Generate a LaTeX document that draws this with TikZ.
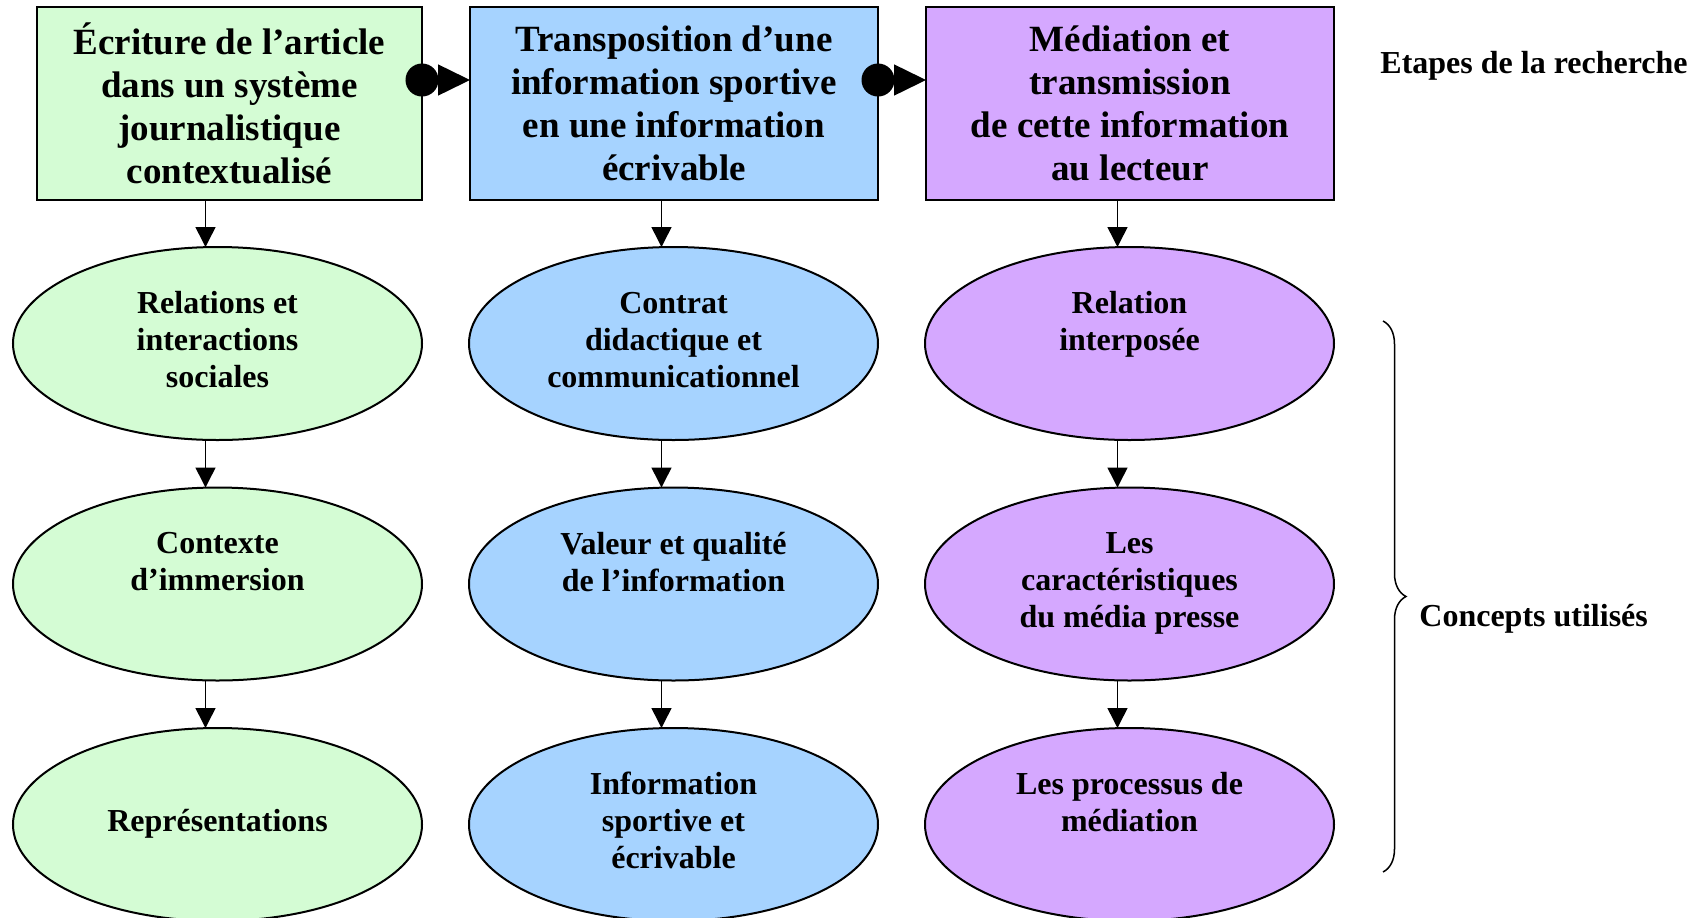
\documentclass[tikz,border=0pt]{standalone}
\usepackage{fontspec}
\setmainfont{Liberation Serif}
\usetikzlibrary{shapes.geometric,arrows.meta,decorations.pathreplacing}

\definecolor{vert}{HTML}{D4FCD4}
\definecolor{bleu}{HTML}{A6D3FF}
\definecolor{violet}{HTML}{D5A8FF}

\begin{document}
\begin{tikzpicture}[x=0.5pt,y=-0.5pt,
     etape/.style={rectangle, draw, line width=1pt, outer sep=0pt, minimum height=96.5pt, inner sep=0pt, align=center, font=\bfseries\fontsize{18.5}{21.5}\selectfont},
     notion/.style={ellipse, draw, line width=1pt, outer sep=0pt, minimum width=204.5pt, minimum height=96.5pt, inner sep=0pt, text depth=4pt, align=center, font=\bfseries\fontsize{16}{18.5}\selectfont},
     fleche/.style={line width=0.75pt, -{Triangle[length=10pt,width=10pt]}},
     lien/.style={line width=0.75pt, {Circle[length=16.5pt]}-{Triangle[length=16pt,width=15.5pt]}, shorten <=-8.25pt},
     legende/.style={anchor=base west, inner sep=0pt, font=\bfseries\fontsize{16}{18.5}\selectfont}]

     \useasboundingbox (0,0) rectangle (1699,917);

     % etapes de la recherche
     \node[etape, fill=vert, minimum width=192.5pt] (Ecriture) at (229.5,103.5) {Écriture de l’article\\dans un système\\journalistique\\contextualisé};
     \node[etape, fill=bleu, minimum width=204pt] (Transposition) at (674,103.5) {Transposition d’une\\information sportive\\en une information\\écrivable};
     \node[etape, fill=violet, minimum width=204pt] (Mediation) at (1130,103.5) {Médiation et\\transmission\\de cette information\\au lecteur};

     \draw[lien] ([yshift=11.75pt]Ecriture.east) -- ([yshift=11.75pt]Transposition.west);
     \draw[lien] ([yshift=11.75pt]Transposition.east) -- ([yshift=11.75pt]Mediation.west);

     % concepts
     \begin{scope}[every node/.style={notion, fill=vert}]
        \node (Relations) at (217.5,343.5) {Relations et\\interactions\\sociales};
        \node (Contexte) at (217.5,584) {Contexte\\d’immersion\\\phantom{x}};
        \node (Representations) at (217.5,824.5) {Représentations};
     \end{scope}
     \begin{scope}[every node/.style={notion, fill=bleu}]
        \node (Contrat) at (673.5,343.5) {Contrat\\didactique et\\communicationnel};
        \node (Valeur) at (673.5,584) {Valeur et qualité\\de l’information\\\phantom{x}};
        \node (Information) at (673.5,824.5) {Information\\sportive et\\écrivable};
     \end{scope}
     \begin{scope}[every node/.style={notion, fill=violet}]
        \node (Relation) at (1129.5,343.5) {Relation\\interposée\\\phantom{x}};
        \node (Caracteristiques) at (1129.5,584) {Les\\caractéristiques\\du média presse};
        \node (Processus) at (1129.5,824.5) {Les processus de\\médiation\\\phantom{x}};
     \end{scope}

     \begin{scope}[transform canvas={xshift=-6pt}]
        \draw[fleche] (Ecriture.south -| Relations) -- (Relations);
        \draw[fleche] (Relations) -- (Contexte);
        \draw[fleche] (Contexte) -- (Representations);
        \draw[fleche] (Transposition.south -| Contrat) -- (Contrat);
        \draw[fleche] (Contrat) -- (Valeur);
        \draw[fleche] (Valeur) -- (Information);
        \draw[fleche] (Mediation.south -| Relation) -- (Relation);
        \draw[fleche] (Relation) -- (Caracteristiques);
        \draw[fleche] (Caracteristiques) -- (Processus);
     \end{scope}

     % legendes
     \coordinate (AccoladeHaut) at (1383,321);
     \coordinate (AccoladeBas) at (1383,872);
     \draw[decorate, decoration={brace, amplitude=11.5pt}, line width=0.75pt] (AccoladeHaut) -- (AccoladeBas);
     \node[legende] (Etapes) at (1380,73) {Etapes de la recherche};
     \node[legende] (Concepts) at (1419,626) {Concepts utilisés};
\end{tikzpicture}
\end{document}
